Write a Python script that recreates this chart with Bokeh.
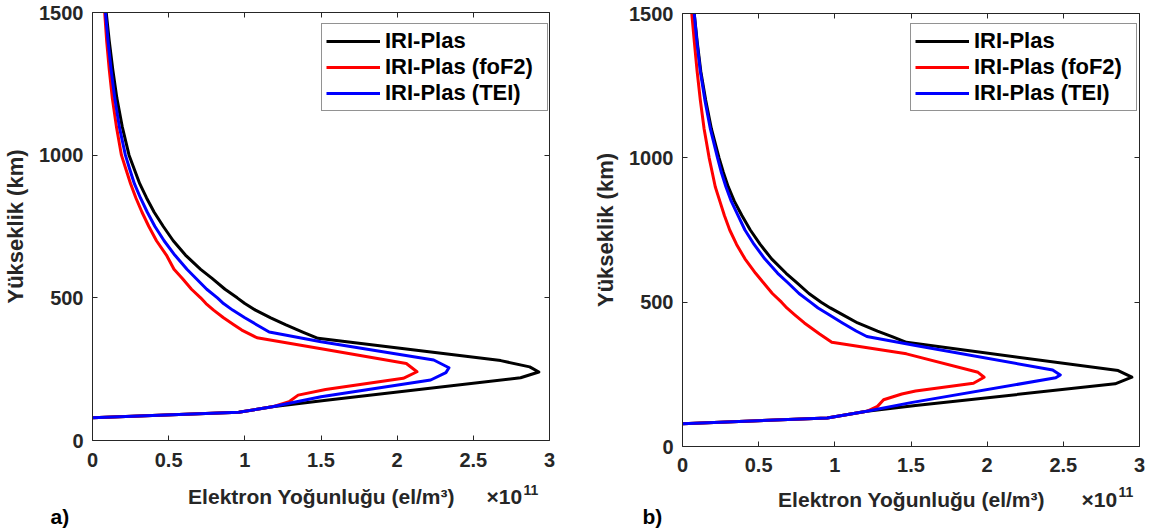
from bokeh.plotting import figure
from bokeh.layouts import row, column
from bokeh.models import (Range1d, LinearAxis, FixedTicker, NumeralTickFormatter,
                          Legend, LegendItem, CustomLabelingPolicy)
from bokeh.core.properties import value
from bokeh.embed import file_html
from bokeh.resources import INLINE

# ---------------- data (density in units of 1e11 el/m^3, altitude in km) ----------------
series_names = ["IRI-Plas", "IRI-Plas (foF2)", "IRI-Plas (TEI)"]
x_ticks = [0, 0.5, 1, 1.5, 2, 2.5, 3]
y_ticks = [0, 500, 1000, 1500]

# panel a)
a_iri_h = [80, 99, 118, 140, 220, 240, 258, 280, 358, 380, 405, 430, 457, 480, 500, 530, 568, 600,
           650, 700, 750, 800, 850, 900, 950, 1000, 1100, 1200, 1300, 1400, 1500]
a_iri_n = [0, 0.96, 1.18, 1.52, 2.81, 2.93, 2.87, 2.68, 1.48, 1.38, 1.27, 1.17, 1.07, 1.00, 0.95, 0.87, 0.785, 0.71,
           0.61, 0.53, 0.465, 0.405, 0.355, 0.31, 0.275, 0.24, 0.195, 0.16, 0.133, 0.11, 0.09]

a_fof2_h = [80, 99, 118, 136, 159, 179, 218, 241, 270, 319, 360, 387, 405, 430, 457, 480, 500, 530, 568, 600,
            650, 700, 750, 800, 850, 900, 950, 1000, 1100, 1200, 1300, 1400, 1500]
a_fof2_n = [0, 0.96, 1.18, 1.29, 1.35, 1.53, 2.04, 2.13, 2.06, 1.53, 1.08, 0.98, 0.93, 0.86, 0.795, 0.745, 0.71, 0.65, 0.59, 0.535,
            0.485, 0.42, 0.37, 0.325, 0.285, 0.25, 0.22, 0.19, 0.157, 0.13, 0.11, 0.093, 0.08]

a_tei_h = [80, 99, 118, 153, 212, 238, 255, 282, 346, 380, 405, 430, 457, 480, 500, 530, 568, 600,
           650, 700, 750, 800, 850, 900, 950, 1000, 1100, 1200, 1300, 1400, 1500]
a_tei_n = [0, 0.96, 1.18, 1.50, 2.22, 2.32, 2.34, 2.24, 1.50, 1.16, 1.08, 1.00, 0.92, 0.86, 0.82, 0.75, 0.68, 0.62,
           0.54, 0.47, 0.41, 0.36, 0.315, 0.275, 0.245, 0.216, 0.176, 0.146, 0.122, 0.102, 0.085]

# panel b)
b_iri_h = [79, 99, 122, 142, 217, 240, 263, 361, 380, 400, 428, 457, 480, 500, 530, 568, 600,
           650, 700, 750, 800, 850, 900, 950, 1000, 1100, 1200, 1300, 1400, 1500]
b_iri_n = [0, 0.95, 1.21, 1.53, 2.84, 2.95, 2.86, 1.47, 1.38, 1.28, 1.15, 1.05, 0.97, 0.91, 0.83, 0.75, 0.68,
           0.585, 0.51, 0.445, 0.39, 0.34, 0.30, 0.268, 0.24, 0.19, 0.152, 0.12, 0.097, 0.077]

b_fof2_h = [79, 99, 122, 139, 162, 182, 192, 219, 240, 257, 321, 361, 390, 428, 457, 480, 500, 530, 568, 600,
            650, 700, 750, 800, 850, 900, 950, 1000, 1100, 1200, 1300, 1400, 1500]
b_fof2_n = [0, 0.95, 1.21, 1.28, 1.32, 1.44, 1.53, 1.91, 1.98, 1.94, 1.47, 0.98, 0.90, 0.80, 0.735, 0.685, 0.65, 0.59, 0.53, 0.48,
            0.41, 0.355, 0.31, 0.275, 0.245, 0.215, 0.195, 0.175, 0.142, 0.117, 0.096, 0.078, 0.061]

b_tei_h = [79, 99, 122, 152, 238, 248, 265, 350, 381, 400, 428, 457, 480, 500, 530, 568, 600,
           650, 700, 750, 800, 850, 900, 950, 1000, 1100, 1200, 1300, 1400, 1500]
b_tei_n = [0, 0.95, 1.21, 1.50, 2.45, 2.48, 2.43, 1.53, 1.21, 1.14, 1.05, 0.96, 0.89, 0.84, 0.765, 0.69, 0.625,
           0.54, 0.47, 0.41, 0.365, 0.32, 0.285, 0.255, 0.23, 0.183, 0.147, 0.117, 0.095, 0.077]

colors = ["#000000", "#ff0000", "#0000ff"]
x_label = "Elektron Yoğunluğu (el/m³)"
y_label = "Yükseklik (km)"
exp_base = "×10"
exp_power = "11"
panel_tags = ["a)", "b)"]

FONT = "Liberation Sans"
AXC = "#262626"
TICK_FS = "20px"
XLAB_FS = "21px"
YLAB_FS = "22px"
LEG_FS = "22px"


def style_axis(ax, ticks, show_labels, standoff=8):
    ax.ticker = FixedTicker(ticks=ticks)
    ax.axis_line_color = AXC
    ax.axis_line_width = 1
    ax.major_tick_line_color = AXC
    ax.major_tick_in = 5
    ax.major_tick_out = 0
    ax.minor_tick_line_color = None
    if show_labels:
        ax.major_label_text_font = FONT
        ax.major_label_text_font_style = "bold"
        ax.major_label_text_font_size = TICK_FS
        ax.major_label_text_color = AXC
        ax.major_label_standoff = standoff
    else:
        ax.major_label_policy = CustomLabelingPolicy(code="return new Set()")
        ax.major_label_text_font_size = "0px"
        ax.major_label_standoff = 0


def make_panel(data, W, H, bl, br, bt, bb, leg_loc, x_standoff):
    p = figure(width=W, height=H, x_range=Range1d(0, 3), y_range=Range1d(0, 1500),
               output_backend="svg", toolbar_location=None,
               min_border_left=bl, min_border_right=br, min_border_top=bt, min_border_bottom=bb)
    p.grid.visible = False
    p.outline_line_color = None
    p.background_fill_color = "white"
    p.border_fill_color = "white"

    items = []
    for (n, h), c, name in zip(data, colors, series_names):
        r = p.line(n, h, line_color=c, line_width=3, line_join="round")
        items.append(LegendItem(label=name, renderers=[r]))

    xb = p.xaxis[0]
    style_axis(xb, x_ticks, True, x_standoff)
    xb.formatter = NumeralTickFormatter(format="0.[0]")
    yl = p.yaxis[0]
    style_axis(yl, y_ticks, True, 9)
    yl.axis_label = y_label
    yl.axis_label_text_font = FONT
    yl.axis_label_text_font_style = "bold"
    yl.axis_label_text_font_size = YLAB_FS
    yl.axis_label_text_color = AXC
    yl.axis_label_standoff = 8

    top = LinearAxis()
    style_axis(top, x_ticks, False)
    p.add_layout(top, "above")
    right = LinearAxis()
    style_axis(right, y_ticks, False)
    p.add_layout(right, "right")

    leg = Legend(items=items, location=leg_loc)
    leg.label_text_font = FONT
    leg.label_text_font_style = "bold"
    leg.label_text_font_size = LEG_FS
    leg.label_text_color = "#000000"
    leg.glyph_width = 54
    leg.glyph_height = 22
    leg.label_height = 22
    leg.label_width = 158
    leg.label_standoff = 5
    leg.spacing = 0
    leg.padding = 4
    leg.margin = 0
    leg.border_line_color = AXC
    leg.border_line_width = 1
    leg.background_fill_color = "white"
    leg.background_fill_alpha = 1
    p.add_layout(leg)
    return p


pa = make_panel([(a_iri_n, a_iri_h), (a_fof2_n, a_fof2_h), (a_tei_n, a_tei_h)],
                W=590, H=481, bl=92, br=41, bt=12, bb=41, leg_loc=(229, 329), x_standoff=12)
pb = make_panel([(b_iri_n, b_iri_h), (b_fof2_n, b_fof2_h), (b_tei_n, b_tei_h)],
                W=561, H=481, bl=92, br=12, bt=13, bb=35, leg_loc=(228, 335), x_standoff=11)

# full-width strip under both panels: x-axis titles, exponents and panel tags (pixel layout)
SW, SH = 1151, 50
strip = figure(width=SW, height=SH, x_range=Range1d(0, SW), y_range=Range1d(SH, 0),
               output_backend="svg", toolbar_location=None,
               min_border_left=0, min_border_right=0, min_border_top=0, min_border_bottom=0,
               x_axis_location=None, y_axis_location=None)
strip.grid.visible = False
strip.outline_line_color = None
strip.background_fill_color = "white"
strip.border_fill_color = "white"

txt = dict(text_font=value(FONT), text_font_style="bold", text_baseline="middle")
# (label centre x, label y, exponent x, power x, power y, tag x, tag y) for each panel
strip_pos = [(321, 15, 486, 523, 8, 50, 35),
             (911, 18, 1081, 1118, 10, 642, 35)]
for (lcx, lcy, ex, px_, py_, tx, ty), tag in zip(strip_pos, panel_tags):
    strip.text(x=[lcx], y=[lcy], text=[x_label], text_align="center",
               text_font_size=XLAB_FS, text_color=AXC, **txt)
    strip.text(x=[ex], y=[lcy], text=[exp_base], text_align="left",
               text_font_size=XLAB_FS, text_color=AXC, **txt)
    strip.text(x=[px_], y=[py_], text=[exp_power], text_align="left",
               text_font_size="14px", text_color=AXC, **txt)
    strip.text(x=[tx], y=[ty], text=[tag], text_align="left",
               text_font_size=XLAB_FS, text_color="#000000", **txt)

layout = column(row(column(pa), column(pb), spacing=0), strip, spacing=0)
open("out.html", "w").write(file_html(layout, INLINE))
